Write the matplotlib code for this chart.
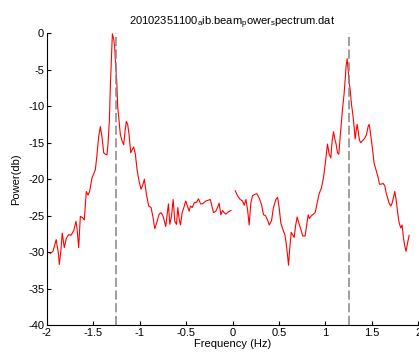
#!/usr/bin/env python
"""Beam power spectrum (dB) vs frequency, with dashed markers at the two peaks."""
import matplotlib

matplotlib.use("Agg")
import matplotlib.pyplot as plt
import numpy as np

plt.rcParams["font.family"] = ["Liberation Sans", "DejaVu Sans"]
plt.rcParams["mathtext.fontset"] = "custom"
plt.rcParams["mathtext.rm"] = "Liberation Sans"
plt.rcParams["axes.unicode_minus"] = False

# negative-frequency half
freq_neg = [-1.964, -1.935, -1.90, -1.874, -1.867, -1.85, -1.835, -1.813, -1.79, -1.766,
            -1.741, -1.712, -1.687, -1.676, -1.658, -1.64, -1.615, -1.597, -1.576, -1.557,
            -1.54, -1.514, -1.496, -1.478, -1.46, -1.442, -1.424, -1.406, -1.388, -1.37,
            -1.353, -1.342, -1.327, -1.317, -1.306, -1.295, -1.281, -1.27, -1.259, -1.248,
            -1.237, -1.223, -1.209, -1.19, -1.173, -1.158, -1.144, -1.13, -1.115, -1.097,
            -1.079, -1.065, -1.047, -1.029, -1.007, -0.986, -0.964, -0.95, -0.928, -0.903,
            -0.878, -0.856, -0.838, -0.813, -0.791, -0.77, -0.748, -0.734, -0.72, -0.705,
            -0.691, -0.676, -0.658, -0.64, -0.622, -0.604, -0.59, -0.575, -0.561, -0.543,
            -0.525, -0.504, -0.486, -0.468, -0.453, -0.435, -0.41, -0.388, -0.367, -0.345,
            -0.323, -0.287, -0.24, -0.226, -0.205, -0.18, -0.162, -0.144, -0.126, -0.108,
            -0.09, -0.072, -0.047, -0.018]
power_neg = [-30.2, -29.9, -28.3, -30.4, -31.7, -29.9, -27.4, -29.4, -28.1, -27.6,
             -27.7, -27.1, -25.8, -26.7, -29.4, -25.1, -25.3, -25.6, -21.7, -22.2,
             -21.7, -19.8, -19.3, -18.7, -16.6, -14.1, -12.8, -14.3, -16.4, -16.6,
             -16.7, -15.2, -12.0, -7.4, -3.8, -0.1, -0.8, -1.9, -4.7, -6.5,
             -10.2, -12.0, -13.9, -14.8, -15.3, -13.4, -12.1, -12.5, -13.9, -16.4,
             -15.9, -15.6, -16.6, -18.7, -20.3, -21.4, -20.7, -20.0, -22.1, -23.7,
             -23.9, -25.3, -26.8, -25.8, -24.8, -24.6, -25.1, -25.8, -26.5, -24.9,
             -23.4, -26.2, -25.1, -22.8, -25.8, -26.2, -23.9, -25.5, -26.3, -24.6,
             -23.9, -23.0, -23.7, -24.4, -23.7, -23.9, -23.2, -23.2, -22.7, -23.4,
             -23.4, -23.0, -22.8, -23.5, -24.6, -24.4, -23.9, -23.3, -24.9, -24.3,
             -24.6, -24.8, -24.5, -24.3]

# positive-frequency half
freq_pos = [0.029, 0.054, 0.083, 0.108, 0.126, 0.144, 0.162, 0.179, 0.197, 0.215,
            0.24, 0.262, 0.287, 0.312, 0.334, 0.355, 0.377, 0.395, 0.42, 0.441,
            0.467, 0.485, 0.502, 0.52, 0.542, 0.563, 0.578, 0.592, 0.603, 0.617,
            0.632, 0.646, 0.664, 0.678, 0.696, 0.714, 0.736, 0.757, 0.782, 0.8,
            0.815, 0.829, 0.851, 0.872, 0.89, 0.908, 0.933, 0.958, 0.98, 0.994,
            1.009, 1.023, 1.041, 1.059, 1.073, 1.088, 1.102, 1.116, 1.131, 1.145,
            1.159, 1.174, 1.188, 1.202, 1.213, 1.224, 1.235, 1.246, 1.253, 1.267,
            1.281, 1.296, 1.31, 1.321, 1.332, 1.342, 1.353, 1.368, 1.382, 1.403,
            1.425, 1.443, 1.461, 1.472, 1.483, 1.497, 1.511, 1.525, 1.54, 1.554,
            1.569, 1.583, 1.601, 1.622, 1.64, 1.655, 1.669, 1.687, 1.705, 1.719,
            1.734, 1.748, 1.762, 1.777, 1.795, 1.813, 1.827, 1.842, 1.856, 1.87,
            1.885, 1.903]
power_pos = [-21.6, -22.3, -22.8, -23.0, -23.6, -22.8, -24.2, -26.3, -23.3, -22.3,
             -22.1, -22.0, -22.6, -23.5, -24.9, -25.0, -25.6, -26.3, -25.7, -23.9,
             -22.8, -22.5, -23.9, -26.0, -26.9, -27.6, -28.8, -30.4, -31.8, -29.4,
             -27.3, -27.6, -28.0, -26.5, -25.2, -26.0, -26.9, -27.8, -27.8, -26.2,
             -24.9, -25.4, -25.0, -24.8, -24.6, -23.5, -22.0, -21.2, -19.8, -18.4,
             -16.8, -15.2, -16.6, -17.1, -14.8, -13.5, -14.5, -15.2, -16.4, -16.6,
             -14.3, -12.0, -10.0, -8.3, -6.5, -4.4, -3.5, -5.1, -6.3, -7.7,
             -9.7, -11.1, -12.9, -14.5, -13.4, -12.5, -13.4, -14.7, -15.0, -14.7,
             -14.4, -13.9, -12.8, -12.5, -13.4, -14.8, -16.2, -17.8, -18.5, -19.1,
             -19.8, -20.7, -20.7, -20.6, -20.9, -21.9, -22.5, -23.3, -23.7, -23.3,
             -22.5, -21.7, -22.8, -24.4, -26.0, -26.7, -26.3, -28.1, -29.2, -29.9,
             -28.8, -27.7]

peak_freqs = [-1.26, 1.26]
xticks = [-2, -1.5, -1, -0.5, 0, 0.5, 1, 1.5, 2]
yticks = [-40, -35, -30, -25, -20, -15, -10, -5, 0]

fig = plt.figure(figsize=(4.19, 3.56), dpi=100)
ax = fig.add_axes([0.112, 0.087, 0.886, 0.82])

ax.plot(freq_neg, power_neg, color="red", lw=0.8)
ax.plot(freq_pos, power_pos, color="red", lw=0.8)
ax.vlines(peak_freqs, -40, 0, colors="#858585", linestyles=(0, (6, 2.3)), lw=1.1)

ax.set_xlim(-2, 2)
ax.set_ylim(-40, 0)
ax.set_xticks(xticks)
ax.set_xticklabels([f"{t:g}" for t in xticks])
ax.set_yticks(yticks)
for s in ("top", "right"):
    ax.spines[s].set_visible(False)
ax.tick_params(direction="in", length=3, labelsize=8, pad=2)
ax.set_xlabel("Frequency (Hz)", fontsize=8, labelpad=1)
ax.set_ylabel("Power(db)", fontsize=8, labelpad=5)
ax.set_title(r"20102351100$_{\rm a}$ib.beam$_{\rm p}$ower$_{\rm s}$pectrum.dat",
             fontsize=8, pad=6)

fig.savefig("out.png", dpi=100)
